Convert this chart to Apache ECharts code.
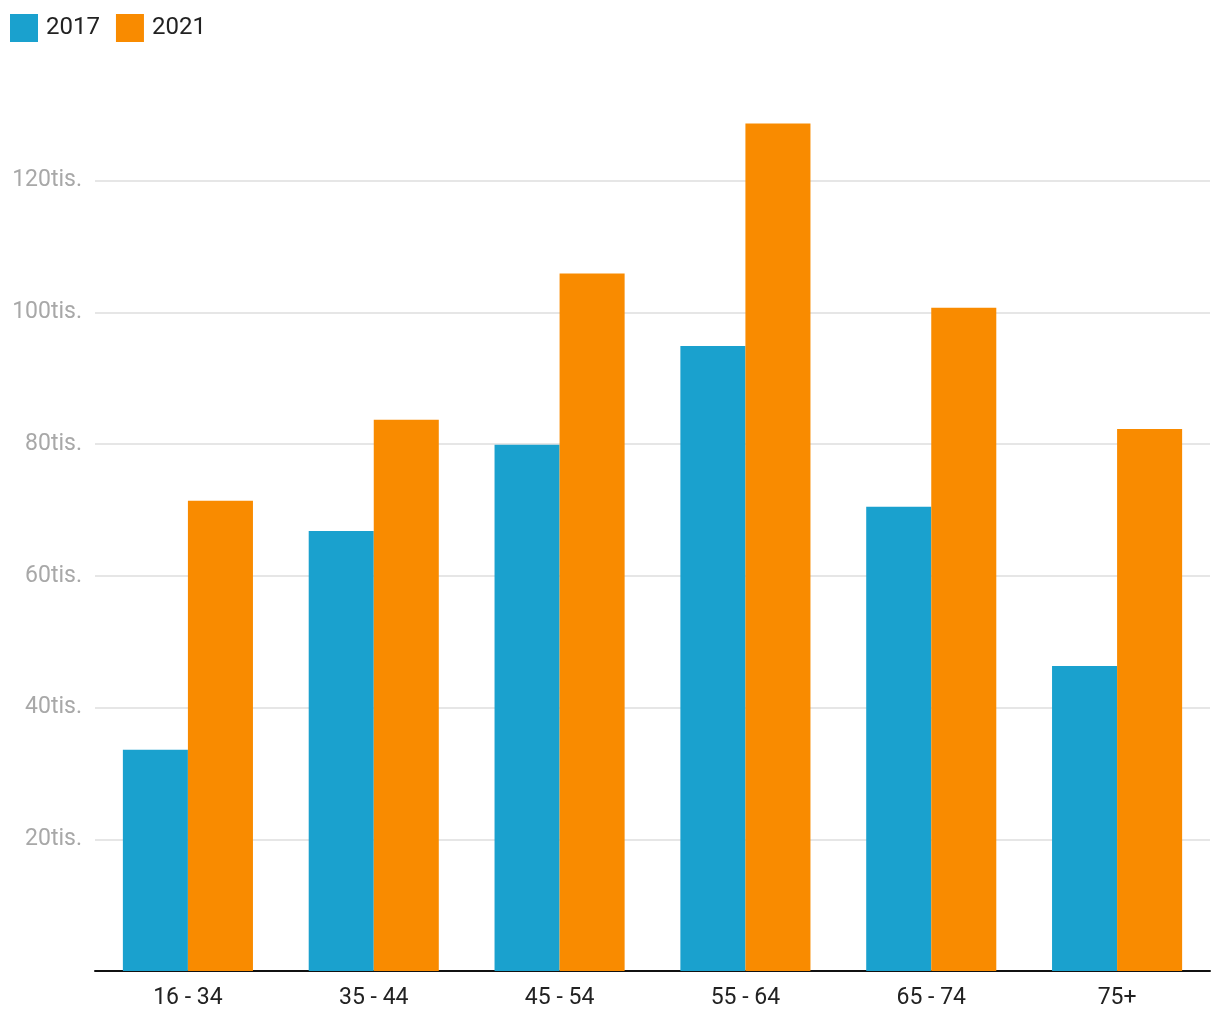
<!DOCTYPE html>
<html>
<head>
<meta charset="utf-8">
<script src="https://cdn.jsdelivr.net/npm/echarts@6/dist/echarts.min.js"></script>
<style>html,body{margin:0;padding:0;background:#fff}#c{width:1220px;height:1020px}</style>
</head>
<body>
<div id="c"></div>
<script>
const categories = ['16 - 34', '35 - 44', '45 - 54', '55 - 64', '65 - 74', '75+'];
const values2017 = [33600, 66800, 79900, 94900, 70500, 46300];
const values2021 = [71400, 83700, 105900, 128700, 100700, 82300];
const seriesNames = ['2017', '2021'];
const yTicks = [0, 20000, 40000, 60000, 80000, 100000, 120000, 140000];

const chart = echarts.init(document.getElementById('c'), null, {renderer: 'canvas'});
const font = 'Roboto';
chart.setOption({
  animation: false,
  color: ['#1aa1ce', '#f98b00'],
  legend: {
    left: 5, top: 9,
    itemWidth: 28, itemHeight: 28, itemGap: 16,
    icon: 'rect',
    textStyle: {fontFamily: font, fontSize: 24, color: '#222', padding: [0, 0, 0, 3]},
    data: seriesNames
  },
  grid: {left: 95, right: 10, top: 49, bottom: 49, containLabel: false},
  xAxis: {
    type: 'category',
    data: categories,
    axisLine: {lineStyle: {color: '#111', width: 2}},
    axisTick: {show: false},
    axisLabel: {fontFamily: font, fontSize: 23, color: '#222', margin: 16}
  },
  yAxis: {
    type: 'value',
    min: yTicks[0], max: yTicks[yTicks.length - 1], interval: 20000,
    axisLine: {show: false},
    axisTick: {show: false},
    axisLabel: {
      fontFamily: font, fontSize: 23, color: '#a8a8a8', margin: 13, padding: [4, 0, 0, 0],
      formatter: v => (v === 0 || v >= 140000) ? '' : (v / 1000) + 'tis.'
    },
    splitLine: {lineStyle: {color: ['rgba(0,0,0,0)', '#e6e6e6', '#e6e6e6', '#e6e6e6', '#e6e6e6', '#e6e6e6', '#e6e6e6', 'rgba(0,0,0,0)'], width: 2}}
  },
  series: [
    {name: seriesNames[0], type: 'bar', data: values2017, barGap: '0%', barCategoryGap: '30%'},
    {name: seriesNames[1], type: 'bar', data: values2021, barGap: '0%', barCategoryGap: '30%'}
  ]
});
</script>
</body>
</html>
